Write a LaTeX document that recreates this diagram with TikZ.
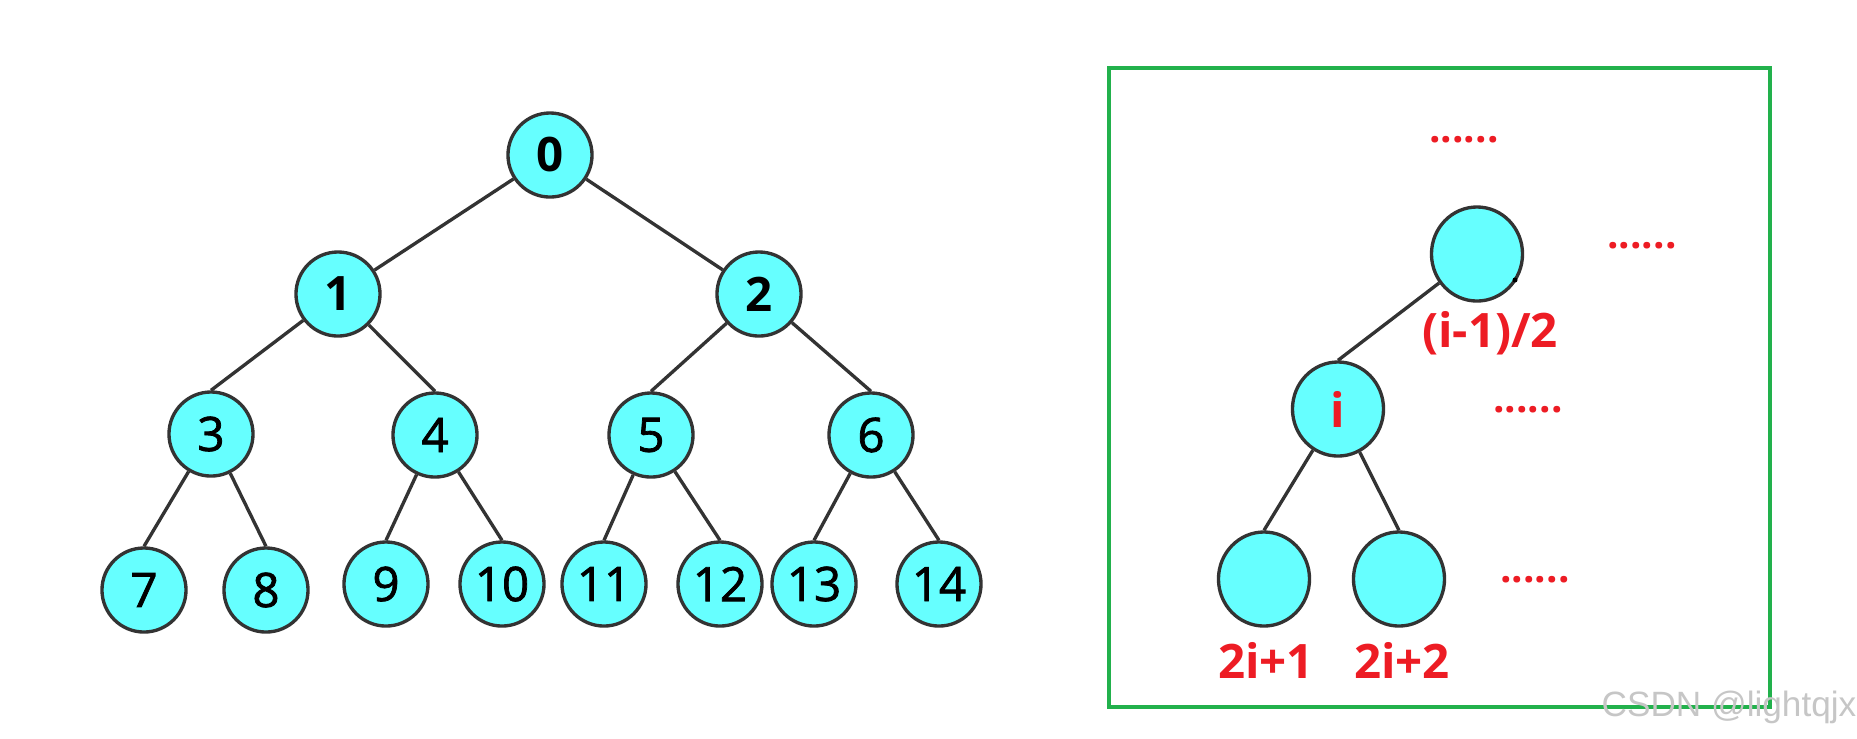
\documentclass[tikz,border=0pt]{standalone}
\usepackage{fontspec}
\setmainfont{Open Sans}
\setsansfont{Liberation Sans}
\newfontfamily\numfont{Open Sans}[UprightFeatures={FakeBold=1.6}]
\usepackage{tikz}
\usetikzlibrary{positioning,shapes.geometric}
\usepackage{xcolor}
\definecolor{nodecyan}{HTML}{66FFFF}
\definecolor{edgegray}{HTML}{333333}
\definecolor{paintred}{HTML}{ED1C24}
\definecolor{paintgreen}{HTML}{22B14C}

\begin{document}
\begin{tikzpicture}[x=0.01cm, y=-0.01cm,
    treeNode/.style={circle, draw=edgegray, fill=nodecyan, line width=0.95pt, minimum size=0.84cm, inner sep=0pt, font=\numfont\fontsize{13.5}{15}\selectfont},
    topNode/.style={treeNode, font=\fontsize{13.5}{15}\selectfont\bfseries},
    idxNode/.style={ellipse, draw=edgegray, fill=nodecyan, line width=0.95pt, minimum width=0.91cm, minimum height=0.94cm, inner sep=0pt, text=paintred, font=\fontsize{13.5}{15}\selectfont\bfseries},
    treeEdge/.style={draw=edgegray, line width=0.95pt},
    redLabel/.style={text=paintred, font=\fontsize{13.5}{15}\selectfont\bfseries, inner sep=1pt},
    moreDots/.style={text=paintred, font=\fontsize{11.5}{13}\selectfont\bfseries, inner sep=0pt}
]
    \useasboundingbox (0,0) rectangle (1857,738);

    % Albero completo 0..14
    \node[topNode] (n0) at (550,155) {0};
    \node[topNode] (n1) at (338,294) {1};
    \node[topNode] (n2) at (759,294) {2};
    \node[treeNode] (n3) at (211,434) {3};
    \node[treeNode] (n4) at (435,435) {4};
    \node[treeNode] (n5) at (651,435) {5};
    \node[treeNode] (n6) at (871,435) {6};
    \node[treeNode] (n7) at (144,590) {7};
    \node[treeNode] (n8) at (266,590) {8};
    \node[treeNode] (n9) at (386,584) {9};
    \node[treeNode] (n10) at (502,584) {10};
    \node[treeNode] (n11) at (604,584) {11};
    \node[treeNode] (n12) at (720,584) {12};
    \node[treeNode] (n13) at (814,584) {13};
    \node[treeNode] (n14) at (939,584) {14};

    \draw[treeEdge] (n0) -- (n1);
    \draw[treeEdge] (n0) -- (n2);
    \draw[treeEdge] (n1) -- (n3.north);
    \draw[treeEdge] (n1) -- (n4.north);
    \draw[treeEdge] (n2) -- (n5.north);
    \draw[treeEdge] (n2) -- (n6.north);
    \draw[treeEdge] (n3) -- (n7.north);
    \draw[treeEdge] (n3) -- (n8.north);
    \draw[treeEdge] (n4) -- (n9.north);
    \draw[treeEdge] (n4) -- (n10.north);
    \draw[treeEdge] (n5) -- (n11.north);
    \draw[treeEdge] (n5) -- (n12.north);
    \draw[treeEdge] (n6) -- (n13.north);
    \draw[treeEdge] (n6) -- (n14.north);

    % Riquadro con gli indici
    \draw[paintgreen, line width=1.4pt] (1109,68) rectangle (1770,707);

    \node[idxNode] (par) at (1477,254) {};
    \node[idxNode] (cur) at (1338,409) {i};
    \node[idxNode] (lch) at (1264,579) {};
    \node[idxNode] (rch) at (1399,579) {};
    \fill[black] (1515,280) circle (2.5);

    \draw[treeEdge] (par) -- (cur.north);
    \draw[treeEdge] (cur) -- (lch.north);
    \draw[treeEdge] (cur) -- (rch.north);

    \node[redLabel] (parLabel) at (1490,333) {(i-1)/2};
    \node[redLabel] (lchLabel) at (1266,660) {2i+1};
    \node[redLabel] (rchLabel) at (1402,660) {2i+2};

    \node[moreDots] (dotsTop) at (1464,140) {......};
    \node[moreDots] (dotsPar) at (1642,246) {......};
    \node[moreDots] (dotsCur) at (1528,410) {......};
    \node[moreDots] (dotsChild) at (1535,580) {......};

    \node[text=gray!45, font=\sffamily\fontsize{10}{12}\selectfont, inner sep=0pt] (mark) at (1729,707) {CSDN @lightqjx};
\end{tikzpicture}
\end{document}
